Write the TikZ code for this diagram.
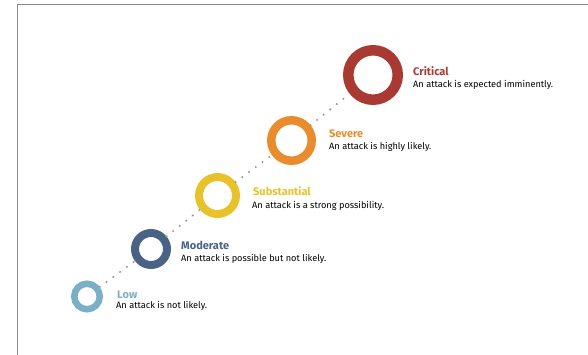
\documentclass[tikz,border=0pt]{standalone}
\usepackage{fontspec}
\setmainfont{Fira Sans}
\definecolor{critc}{HTML}{A83A33}
\definecolor{sevc}{HTML}{E98C2E}
\definecolor{subc}{HTML}{E8C22A}
\definecolor{modc}{HTML}{4A6384}
\definecolor{lowc}{HTML}{7BAFC8}
\definecolor{dotc}{HTML}{9A9A9A}
\definecolor{framec}{HTML}{8A8A8A}
\tikzset{
  ring/.style={circle, inner sep=0pt, fill=white},
  ttl/.style={anchor=base west, inner sep=0pt, font=\fontsize{11}{13}\selectfont\bfseries},
  dsc/.style={anchor=base west, inner sep=0pt, font=\fontsize{9.2}{11}\selectfont, text=black},
  dots/.style={draw=dotc, line width=2.3pt, line cap=round, dash pattern=on 0pt off 8.4pt}
}
\begin{document}
\begin{tikzpicture}[x=1pt, y=-1pt]
\useasboundingbox (0,0) rectangle (588,355);
\draw[framec, line width=1pt] (600,5) -- (17.5,5) -- (17.5,360);
% rings
\node[ring, draw=lowc, line width=6.5pt, minimum size=25.5pt] (low) at (87,296.5) {};
\node[ring, draw=modc, line width=8pt, minimum size=32pt] (mod) at (151,249) {};
\node[ring, draw=subc, line width=8pt, minimum size=37pt] (sub) at (217.5,195.5) {};
\node[ring, draw=sevc, line width=8.5pt, minimum size=40.5pt] (sev) at (291.5,140.5) {};
\node[ring, draw=critc, line width=10.5pt, minimum size=49.5pt] (crit) at (373,75) {};
% dotted connectors
\draw[dots] (low) -- (mod);
\draw[dots] (mod) -- (sub);
\draw[dots] (sub) -- (sev);
\draw[dots] (sev) -- (crit);
% labels
\node[ttl, text=critc] (critT) at (413,76) {Critical};
\node[dsc] (critD) at (413,87.5) {An attack is expected imminently.};
\node[ttl, text=sevc] (sevT) at (329,138) {Severe};
\node[dsc] (sevD) at (329,149.5) {An attack is highly likely.};
\node[ttl, text=subc] (subT) at (253,196) {Substantial};
\node[dsc] (subD) at (252,208) {An attack is a strong possibility.};
\node[ttl, text=modc] (modT) at (181,249) {Moderate};
\node[dsc] (modD) at (181,261) {An attack is possible but not likely.};
\node[ttl, text=lowc] (lowT) at (117,298) {Low};
\node[dsc] (lowD) at (116,308.5) {An attack is not likely.};
\end{tikzpicture}
\end{document}
